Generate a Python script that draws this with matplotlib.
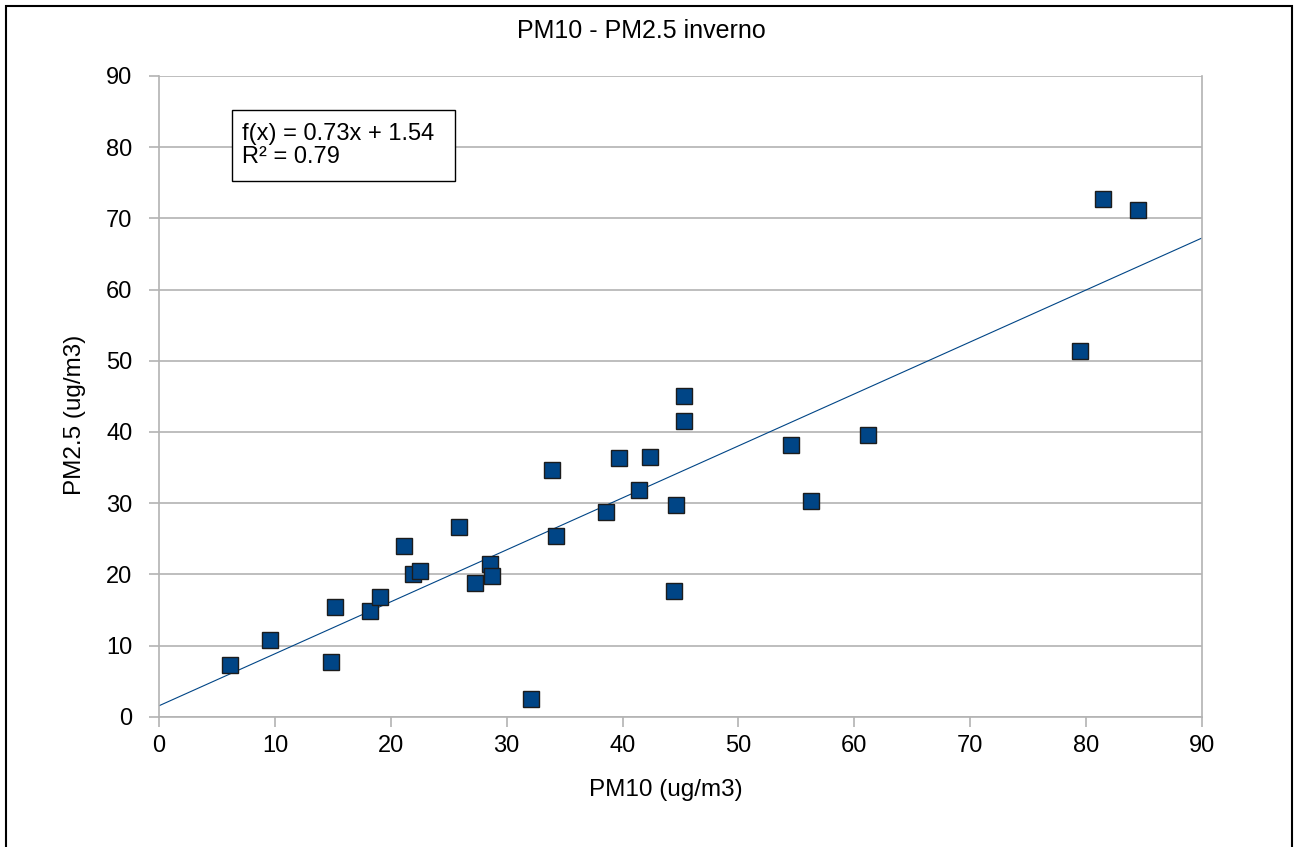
import numpy as np
import matplotlib.pyplot as plt
from matplotlib.patches import Rectangle

plt.rcParams['font.family'] = ['Liberation Sans', 'DejaVu Sans']

# PM10 / PM2.5 winter samples (ug/m3)
pm10 = [6.1, 9.6, 14.8, 15.2, 18.2, 19.1, 21.1, 21.9, 22.5, 25.9,
        27.3, 28.6, 28.7, 32.1, 33.9, 34.3, 38.6, 39.7, 41.4, 42.4,
        44.4, 44.6, 45.3, 45.3, 54.5, 56.3, 61.2, 79.5, 81.5, 84.5]
pm25 = [7.3, 10.8, 7.7, 15.4, 14.8, 16.8, 24.0, 20.0, 20.4, 26.6,
        18.8, 21.5, 19.8, 2.5, 34.7, 25.4, 28.7, 36.3, 31.9, 36.5,
        17.7, 29.8, 41.6, 45.0, 38.2, 30.3, 39.6, 51.4, 72.7, 71.2]

# trend line as shown in the chart
slope = 0.73
intercept = 1.54
ticks = [0, 10, 20, 30, 40, 50, 60, 70, 80, 90]

grid_col = '#b3b3b3'
blue = '#004586'

fig = plt.figure(figsize=(12.98, 8.47), dpi=100)
ax = fig.add_axes([0.1225, 0.1538, 0.8035, 0.7565])

# grid
for t in ticks:
    ax.axhline(t, color=grid_col, lw=1.2, zorder=0)

line_x = np.array([0, 90])
ax.plot(line_x, slope * line_x + intercept, color=blue, lw=0.8, zorder=2)
ax.plot(pm10, pm25, ls='none', marker='s', ms=11, mfc=blue, mec='#1c1c1c',
        mew=1.0, zorder=3)

ax.set_xlim(0, 90)
ax.set_ylim(0, 90)
ax.set_xticks(ticks)
ax.set_yticks(ticks)
for s in ax.spines.values():
    s.set_color(grid_col)
    s.set_linewidth(1.2)
ax.spines['top'].set_visible(False)
ax.tick_params(axis='both', direction='out', length=7, width=1.2,
               color=grid_col, labelsize=17, labelcolor='black')
ax.tick_params(axis='y', pad=12)
ax.tick_params(axis='x', pad=6)

# equation box
ax.add_patch(Rectangle((0.070, 0.836), 0.214, 0.111, transform=ax.transAxes,
                       facecolor='white', edgecolor='black', lw=1.0, zorder=4))
ax.text(0.0796, 0.8915, 'f(x) = 0.73x + 1.54\nR² = 0.79', transform=ax.transAxes,
        fontsize=17, va='center', ha='left', linespacing=1.1, zorder=5)

fig.text(0.494, 0.9635, 'PM10 - PM2.5 inverno', fontsize=18, ha='center', va='center')
fig.text(0.513, 0.0673, 'PM10 (ug/m3)', fontsize=17.5, ha='center', va='center')
fig.text(0.0578, 0.51, 'PM2.5 (ug/m3)', fontsize=17.5, ha='center', va='center',
         rotation=90)

# outer frame
fig.patches.append(Rectangle((0.0046, -0.02), 0.9908, 1.0129, transform=fig.transFigure,
                             fill=False, edgecolor='black', lw=1.5))

fig.savefig('out.png', dpi=100)
